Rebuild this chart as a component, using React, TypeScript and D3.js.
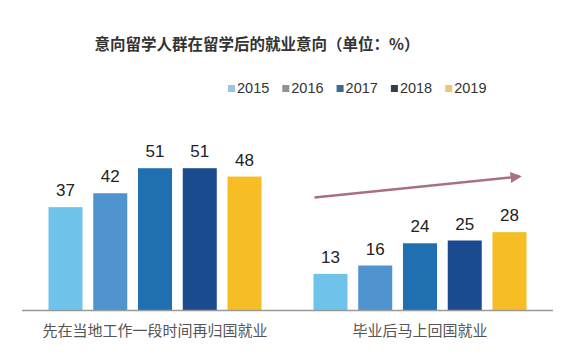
import React from "react";
import * as d3 from "d3";

const categories = ["先在当地工作一段时间再归国就业", "毕业后马上回国就业"];
const years = ["2015", "2016", "2017", "2018", "2019"];
const values2015 = [37, 13];
const values2016 = [42, 16];
const values2017 = [51, 24];
const values2018 = [51, 25];
const values2019 = [48, 28];
const barColors = ["#6fc3ea", "#4f93cf", "#1f6fb1", "#1b4b8f", "#f6bd24"];
const legendColors = ["#9cc3e2", "#8c9496", "#3a6b88", "#333f48", "#e9c878"];
const arrowValues = [40.5, 48];

const W = 580;
const H = 356;

export default function App() {
  const series = [values2015, values2016, values2017, values2018, values2019];
  const x0 = d3.scaleBand<string>().domain(categories).range([22, 553]).paddingInner(0.196).paddingOuter(0.1);
  const x1 = d3.scaleBand<string>().domain(years).range([0, x0.bandwidth()]).paddingInner(0.24).paddingOuter(0);
  const y = d3.scaleLinear().domain([0, 100]).range([310, 32]);
  const font = '"Liberation Sans", Arial, "Noto Sans CJK SC", sans-serif';
  const cjk = '"Noto Sans CJK SC", "Liberation Sans", sans-serif';

  const g2 = x0(categories[1])!;
  const ax1 = g2 + 1;
  const ax2 = g2 + x0.bandwidth() - 7;
  const ay1 = y(arrowValues[0]);
  const ay2 = y(arrowValues[1]);

  return (
    <svg width={W} height={H} style={{ position: "absolute", left: 0, top: 0, background: "#fff" }}>
      <defs>
        <marker id="ah" viewBox="0 0 10 10" refX="8" refY="5" markerWidth="4.5" markerHeight="4.5" orient="auto">
          <path d="M0,0 L10,5 L0,10 z" fill="#a96f86" />
        </marker>
      </defs>
      <text x={257} y={50} textAnchor="middle" fontFamily={cjk} fontWeight="bold" fontSize={15.5} fill="#333">
        意向留学人群在留学后的就业意向（单位：%）
      </text>
      {years.map((yr, i) => (
        <g key={yr} transform={`translate(${228 + i * 54.3},0)`}>
          <rect x={0} y={85} width={7} height={7} fill={legendColors[i]} />
          <text x={9} y={93} fontFamily={font} fontSize={14.5} fill="#333">{yr}</text>
        </g>
      ))}
      {categories.map((c, ci) => (
        <g key={c} transform={`translate(${x0(c)},0)`}>
          {years.map((yr, si) => {
            const v = series[si][ci];
            return (
              <g key={yr}>
                <rect x={x1(yr)} y={y(v)} width={x1.bandwidth()} height={y(0) - y(v)} fill={barColors[si]} />
                <text x={x1(yr)! + x1.bandwidth() / 2} y={y(v) - 11} textAnchor="middle" fontFamily={font} fontSize={17} fill="#222">
                  {v}
                </text>
              </g>
            );
          })}
          <text x={x0.bandwidth() / 2} y={336} textAnchor="middle" fontFamily={cjk} fontSize={15} fill="#555">
            {c}
          </text>
        </g>
      ))}
      <line x1={22} x2={553} y1={y(0) + 0.5} y2={y(0) + 0.5} stroke="#999" strokeWidth={1.5} />
      <line x1={ax1} y1={ay1} x2={ax2} y2={ay2} stroke="#a96f86" strokeWidth={2.5} markerEnd="url(#ah)" />
    </svg>
  );
}
